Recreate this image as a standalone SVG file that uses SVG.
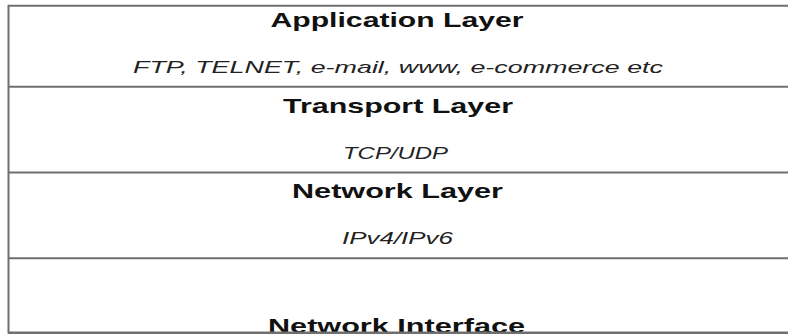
<svg xmlns="http://www.w3.org/2000/svg" width="788" height="336" viewBox="0 0 788 336">
<style>
.t{font-family:"Liberation Sans",Arial,sans-serif;font-weight:bold;font-size:21px;fill:#111;text-anchor:middle}
.s{font-family:"Liberation Sans",Arial,sans-serif;font-style:italic;font-size:16.5px;fill:#222;text-anchor:middle}
.ln{stroke:#6f6f6f;stroke-width:2;fill:none}
</style>
<defs><clipPath id="c"><rect x="0" y="0" width="788" height="332"/></clipPath></defs>
<rect x="0" y="0" width="788" height="336" fill="#fff"/>
<g id="application-layer">
<text class="t" x="397" y="27" textLength="253" lengthAdjust="spacingAndGlyphs">Application Layer</text>
<text class="s" x="398" y="72.5" textLength="530" lengthAdjust="spacingAndGlyphs">FTP, TELNET, e-mail, www, e-commerce etc</text>
</g>
<g id="transport-layer">
<text class="t" x="398" y="113" textLength="230" lengthAdjust="spacingAndGlyphs">Transport Layer</text>
<text class="s" x="395.5" y="158.5" textLength="105" lengthAdjust="spacingAndGlyphs">TCP/UDP</text>
</g>
<g id="network-layer">
<text class="t" x="397.5" y="198" textLength="211" lengthAdjust="spacingAndGlyphs">Network Layer</text>
<text class="s" x="397.5" y="243.5" textLength="111" lengthAdjust="spacingAndGlyphs">IPv4/IPv6</text>
</g>
<g id="network-interface" clip-path="url(#c)">
<text class="t" x="396.5" y="333" textLength="257" lengthAdjust="spacingAndGlyphs">Network Interface</text>
</g>
<g id="frame">
<line class="ln" x1="8" y1="5.7" x2="788" y2="5.7"/>
<line class="ln" x1="8" y1="86.7" x2="788" y2="86.7"/>
<line class="ln" x1="8" y1="172.5" x2="788" y2="172.5"/>
<line class="ln" x1="8" y1="258.3" x2="788" y2="258.3"/>
<line class="ln" x1="8" y1="332.7" x2="788" y2="332.7" style="stroke-width:2.5"/>
<line class="ln" x1="8.5" y1="5" x2="8.5" y2="333.5"/>
</g>
</svg>
